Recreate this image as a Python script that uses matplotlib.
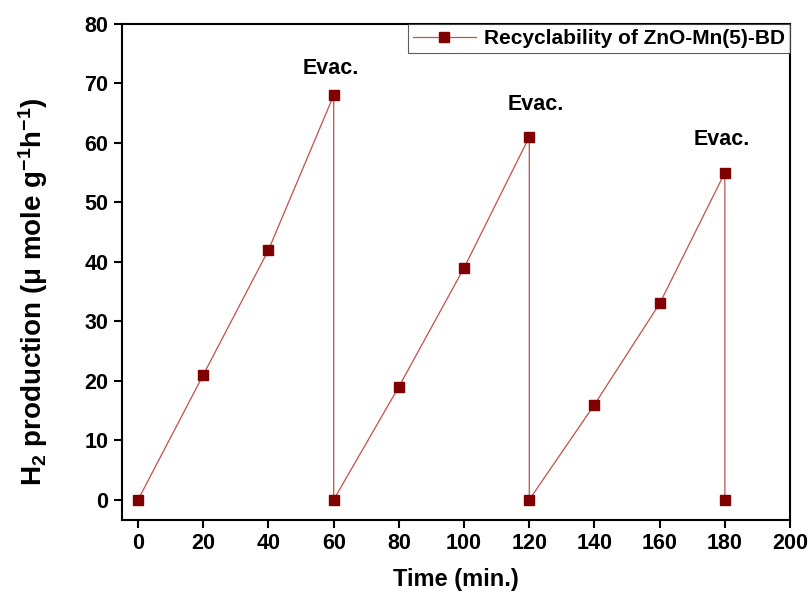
import matplotlib
matplotlib.use('Agg')
import matplotlib.pyplot as plt

# === DATA ===
time_min = [0, 20, 40, 60, 60, 80, 100, 120, 120, 140, 160, 180, 180]
h2_prod = [0, 21, 42, 68, 0, 19, 39, 61, 0, 16, 33, 55, 0]
evac_x = [59, 122, 179]
evac_y = [72.5, 66.5, 60.5]
xticks = [0, 20, 40, 60, 80, 100, 120, 140, 160, 180, 200]
yticks = [0, 10, 20, 30, 40, 50, 60, 70, 80]

# === STYLE ===
plt.rcParams['font.family'] = ['Liberation Sans', 'DejaVu Sans']
plt.rcParams['font.weight'] = 'bold'
plt.rcParams['mathtext.default'] = 'regular'

fig = plt.figure(figsize=(8.12, 5.99), dpi=100)
ax = fig.add_axes([0.150, 0.132, 0.823, 0.828])

ax.plot(time_min, h2_prod, color='#c0504d', lw=0.9,
        marker='s', ms=7.5, mfc='#800000', mec='#800000',
        label='Recyclability of ZnO-Mn(5)-BD')

for x, y in zip(evac_x, evac_y):
    ax.text(x, y, 'Evac.', ha='center', va='center', fontsize=15.5, fontweight='bold')

ax.set_xlim(-5, 200)
ax.set_ylim(-3.4, 80)
ax.set_xticks(xticks)
ax.set_yticks(yticks)
ax.tick_params(direction='out', length=6, width=1.5, labelsize=15.5, top=False, right=False)
for s in ax.spines.values():
    s.set_linewidth(1.5)

ax.set_xlabel('Time (min.)', fontsize=17, fontweight='bold', labelpad=10)
ax.set_ylabel('H$_2$ production ($\\mu$ mole g$^{-1}$h$^{-1}$)', fontsize=20, fontweight='bold')
ax.yaxis.set_label_coords(-0.108, 0.46)

leg = ax.legend(loc='upper right', fontsize=15, frameon=True, fancybox=False,
                borderaxespad=0, handlelength=3.0, borderpad=0.25, handletextpad=0.4)
leg.get_frame().set_edgecolor('#333333')
leg.get_frame().set_linewidth(0.8)

fig.savefig('out.png', dpi=100)
